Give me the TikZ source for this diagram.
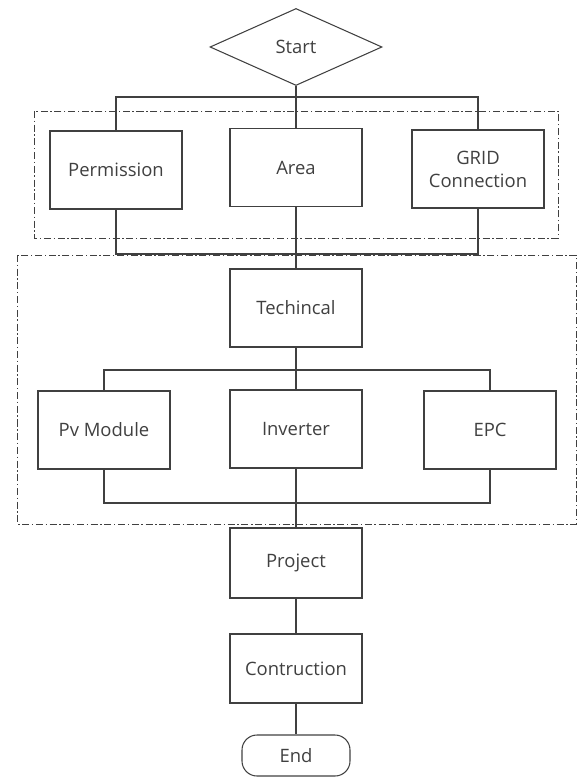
\documentclass[tikz,border=0pt]{standalone}
\usepackage{fontspec}
\setmainfont{Open Sans}
\usetikzlibrary{shapes.geometric}
\definecolor{linegray}{HTML}{404040}
\tikzset{
  box/.style={draw=linegray, line width=0.6pt, text=linegray, minimum width=2.64cm, minimum height=1.56cm, align=center, inner sep=0pt, font=\fontsize{10.5}{13}\selectfont},
  startbox/.style={draw=linegray, line width=0.6pt, text=linegray, diamond, aspect=2.23, minimum width=3.44cm, minimum height=1.54cm, inner sep=0pt, font=\fontsize{10.5}{13}\selectfont},
  endbox/.style={draw=linegray, line width=0.6pt, text=linegray, rounded corners=0.3cm, minimum width=2.16cm, minimum height=0.82cm, inner sep=0pt, font=\fontsize{10.5}{13}\selectfont},
  link/.style={draw=linegray, line width=0.6pt},
  group/.style={draw=linegray, line width=0.5pt, dash pattern=on 4pt off 1.5pt on 0.8pt off 1.5pt}
}

\begin{document}
\begin{tikzpicture}
			%%%%% START %%%%%
			\useasboundingbox (0, 0) rectangle (11.54, -15.54);
			
			% groups
			\draw[group] (0.68, -2.22) rectangle (11.16, -4.76);
			\draw[group] (0.34, -5.10) rectangle (11.52, -10.48);
			
			\node[startbox] (start) at (5.92, -0.94) {Start};
			
			\node[box] (perm) at (2.32, -3.40) {Permission};
			\node[box] (area) at (5.92, -3.35) {Area};
			\node[box] (grid) at (9.56, -3.38) {GRID\\Connection};
			
			\node[box] (tech) at (5.92, -6.16) {Techincal};
			
			\node[box] (pv) at (2.08, -8.60) {Pv Module};
			\node[box] (inv) at (5.92, -8.58) {Inverter};
			\node[box] (epc) at (9.80, -8.60) {EPC};
			
			\node[box, minimum height=1.40cm] (proj) at (5.92, -11.26) {Project};
			\node[box, minimum height=1.38cm] (cons) at (5.92, -13.37) {Contruction};
			\node[endbox] (end) at (5.92, -15.11) {End};
			
			% buses
			\coordinate (bustop) at (5.92, -1.94);
			\coordinate (busmid) at (5.92, -5.08);
			\coordinate (bustech) at (5.92, -7.40);
			\coordinate (busbot) at (5.92, -10.06);
			
			\draw[link] (start.south) -- (area.north);
			\draw[link] (perm.north) |- (bustop) -| (grid.north);
			\draw[link] (perm.south) |- (busmid) -| (grid.south);
			\draw[link] (area.south) -- (tech.north);
			
			\draw[link] (tech.south) -- (inv.north);
			\draw[link] (pv.north) |- (bustech) -| (epc.north);
			\draw[link] (pv.south) |- (busbot) -| (epc.south);
			\draw[link] (inv.south) -- (proj.north);
			
			\draw[link] (proj.south) -- (cons.north);
			\draw[link] (cons.south) -- (end.north);
			%%%%% END %%%%%
\end{tikzpicture}
\end{document}
